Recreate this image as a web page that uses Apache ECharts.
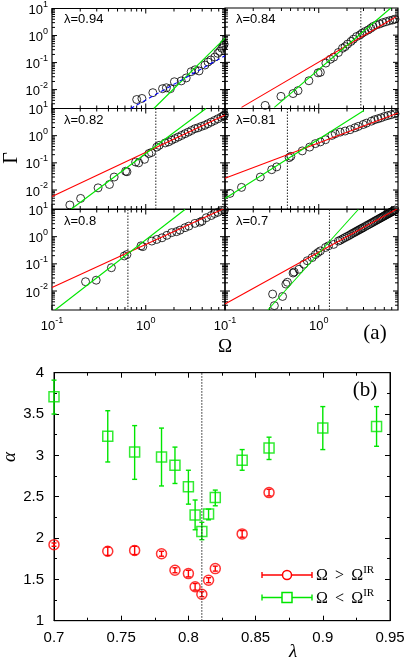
<!DOCTYPE html>
<html>
<head>
<meta charset="utf-8">
<script src="https://cdn.jsdelivr.net/npm/echarts@6/dist/echarts.min.js"></script>
<style>
  html, body { margin: 0; padding: 0; background: #fff; }
  #chart { width: 408px; height: 659px; }
</style>
</head>
<body>
<div id="chart"></div>
<script>
// ---- panel (a): Gamma vs Omega, log-log ----
const omegaMin = 0.1, omegaMax = 7;
const gammaMin = 0.002, gammaMax = 10;
const omegaMajorTicks = [0.1, 1];
const omegaMinorTicks = [0.2, 0.3, 0.4, 0.5, 0.6, 0.7, 0.8, 0.9, 2, 3, 4, 5, 6];
const gammaMajorTicks = [0.01, 0.1, 1];
const gammaMinorTicks = [0.003, 0.004, 0.005, 0.006, 0.007, 0.008, 0.009,
  0.02, 0.03, 0.04, 0.05, 0.06, 0.07, 0.08, 0.09,
  0.2, 0.3, 0.4, 0.5, 0.6, 0.7, 0.8, 0.9, 2, 3, 4, 5, 6, 7, 8, 9];

const lambdaLabels = ["0.94", "0.84", "0.82", "0.81", "0.8", "0.7"];
const omegaIR = [null, 2.81, 1.28, 0.463, 0.645, 1.30];

const pts094 = [[0.80,0.0043],[0.91,0.0047],[1.19,0.0077],[1.51,0.0108],[1.66,0.0117],[1.83,0.0108],
  [2.02,0.0195],[2.39,0.021],[2.70,0.027],[3.05,0.046],[3.36,0.054],[3.70,0.049],[4.28,0.081],
  [4.61,0.105],[4.95,0.125],[5.46,0.16],[5.86,0.22],[6.15,0.26],[6.47,0.34],[6.7,0.40],[6.85,0.48]];
const pts084 = [[0.268,0.0026],[0.395,0.0056],[0.532,0.0071],[0.601,0.0091],[0.785,0.021],[0.984,0.041],
  [1.04,0.043],[1.19,0.094],[1.33,0.13],[1.44,0.155],[1.62,0.23],[1.79,0.33],[1.91,0.38],[2.03,0.47],
  [2.21,0.59],[2.34,0.71],[2.53,0.89],[2.75,1.02],[2.90,1.18],[3.10,1.35],[3.36,1.55],[3.59,1.80],
  [3.79,2.08],[4.11,2.38],[4.46,2.59],[4.83,2.89],[5.24,3.14],[5.69,3.42],[6.15,3.63],[6.5,3.87]];
const pts082 = [[0.155,0.0028],[0.202,0.0049],[0.31,0.012],[0.41,0.016],[0.46,0.030],[0.61,0.049],
  [0.63,0.047],[0.78,0.107],[0.84,0.10],[0.97,0.135],[1.08,0.22],[1.15,0.24],[1.31,0.38],[1.39,0.44],
  [1.61,0.54],[1.75,0.59],[1.89,0.68],[2.05,0.78],[2.22,0.89],[2.41,1.02],[2.62,1.18],[2.84,1.35],
  [3.07,1.55],[3.34,1.80],[3.61,1.95],[3.92,2.19],[4.25,2.40],[4.60,2.75],[4.99,3.16],[5.42,3.63],
  [5.87,4.17],[6.36,4.79],[6.7,5.3],[6.9,5.8]];
const pts081 = [[0.113,0.0075],[0.15,0.0125],[0.238,0.030],[0.315,0.056],[0.356,0.071],[0.483,0.155],
  [0.504,0.174],[0.667,0.275],[0.80,0.38],[0.92,0.51],[1.04,0.59],[1.18,0.71],[1.38,1.02],[1.50,1.18],
  [1.69,1.35],[1.91,1.48],[2.16,1.66],[2.43,1.95],[2.64,2.19],[2.98,2.58],[3.22,2.89],[3.64,3.42],
  [3.95,3.87],[4.29,4.20],[4.63,4.57],[5.04,5.1],[5.46,5.5],[5.91,5.9],[6.5,6.4]];
const pts080 = [[0.228,0.022],[0.296,0.025],[0.43,0.072],[0.59,0.195],[0.63,0.22],[0.89,0.46],[0.93,0.43],
  [1.16,0.69],[1.31,0.79],[1.49,0.91],[1.68,1.12],[1.89,1.41],[2.13,1.53],[2.32,1.74],[2.62,2.14],
  [2.88,2.45],[3.34,3.08],[3.77,3.42],[3.98,3.72],[4.42,4.98],[4.99,6.0],[5.42,7.1],[5.87,7.9],
  [6.4,9.2],[6.9,9.6]];
const pts070 = [[0.336,0.0029],[0.322,0.0077],[0.411,0.0063],[0.463,0.021],[0.446,0.018],[0.532,0.046],
  [0.546,0.050],[0.615,0.063],[0.695,0.097],[0.754,0.13],[0.85,0.17],[0.92,0.22],[0.98,0.26],[1.04,0.30],
  [1.18,0.40],[1.27,0.46],[1.44,0.52],[1.62,0.69],[1.7,0.74],[1.8,0.83],[1.9,0.92],[2.0,1.01],[2.1,1.1],
  [2.2,1.21],[2.3,1.33],[2.4,1.43],[2.5,1.55],[2.6,1.67],[2.7,1.8],[2.8,1.92],[2.9,2.05],[3.0,2.19],
  [3.15,2.4],[3.3,2.64],[3.45,2.85],[3.6,3.10],[3.75,3.35],[3.9,3.62],[4.05,3.9],[4.2,4.17],[4.35,4.45],
  [4.5,4.75],[4.65,5.05],[4.8,5.38],[4.95,5.7],[5.1,6.05],[5.25,6.4],[5.4,6.73],[5.55,7.1],[5.7,7.48],
  [5.85,7.85],[6.0,8.24],[6.15,8.6],[6.3,9.04],[6.5,9.6]];

// fitted power laws (end points), red: Omega > Omega_IR, green: Omega < Omega_IR
const red084 = [[0.15,0.0022],[6.6,4.7]];
const red082 = [[0.1,0.0058],[7,5.8]];
const red081 = [[0.1,0.027],[7,6.8]];
const red080 = [[0.1,0.0135],[7,11.3]];
const red070 = [[0.1,0.0033],[7,11]];
const green094 = [[1.22,0.002],[7,0.8]];
const green084 = [[0.336,0.0022],[5.87,10]];
const green082 = [[0.161,0.002],[4.39,10]];
const green081 = [[0.1,0.0049],[3.03,8.5]];
const green080 = [[0.108,0.002],[2.62,10]];
const green070 = [[0.286,0.002],[2.64,10]];
const blue094 = [[0.69,0.002],[7,0.18]];

// ---- panel (b): alpha vs lambda ----
const lambdaBelow = [0.70, 0.74, 0.76, 0.78, 0.79, 0.80, 0.805, 0.81, 0.815, 0.82, 0.84, 0.86, 0.90, 0.94];
const alphaBelow  = [3.71, 3.23, 3.04, 2.98, 2.88, 2.62, 2.28, 2.08, 2.29, 2.49, 2.94, 3.09, 3.33, 3.35];
const alphaBelowLo = [3.50, 2.92, 2.71, 2.63, 2.66, 2.41, 2.10, 1.98, 2.22, 2.39, 2.82, 2.95, 3.07, 3.11];
const alphaBelowHi = [3.91, 3.54, 3.36, 3.33, 3.10, 2.82, 2.46, 2.19, 2.35, 2.58, 3.07, 3.22, 3.59, 3.59];
const lambdaAbove = [0.70, 0.74, 0.76, 0.78, 0.79, 0.80, 0.805, 0.81, 0.815, 0.82, 0.84, 0.86];
const alphaAbove  = [1.92, 1.84, 1.85, 1.81, 1.61, 1.57, 1.41, 1.32, 1.49, 1.63, 2.05, 2.55];
const alphaAboveErr = [0.02, 0.05, 0.05, 0.03, 0.03, 0.04, 0.04, 0.03, 0.03, 0.03, 0.04, 0.04];
const lambdaC = 0.81;

const RED = "#ff0000", GREEN = "#00e600", BLUE = "#0000ff";
const SANS = "Liberation Sans", SERIF = "Liberation Serif";

const panels = [
  { col: 0, row: 0, pts: pts094, red: null, green: green094, blue: blue094 },
  { col: 1, row: 0, pts: pts084, red: red084, green: green084, blue: null },
  { col: 0, row: 1, pts: pts082, red: red082, green: green082, blue: null },
  { col: 1, row: 1, pts: pts081, red: red081, green: green081, blue: null },
  { col: 0, row: 2, pts: pts080, red: red080, green: green080, blue: null },
  { col: 1, row: 2, pts: pts070, red: red070, green: green070, blue: null },
];
const colLeft = [52, 225], colWidth = 173;
const rowTop = [8, 108.5, 209.5], rowHeight = 100.5;

function pow10(v) {
  var l = Math.log10(v);
  var e = Math.round(l);
  if (Math.abs(l - e) > 1e-6) return "";
  return "{b|10}{s|" + e + "}";
}
const powRich = {
  b: { fontSize: 13, fontFamily: SANS, color: "#000", lineHeight: 17, verticalAlign: "bottom" },
  s: { fontSize: 9, fontFamily: SANS, color: "#000", lineHeight: 9, verticalAlign: "top" },
};

function tickRender(params, api) {
  var cs = params.coordSys;
  var p = api.coord([api.value(0), api.value(1)]);
  var kind = api.value(2);
  var len = kind % 2 === 0 ? 5 : 3;
  var st = { stroke: "#000", lineWidth: 1 };
  var a, b;
  if (kind < 2) {
    a = { x1: p[0], y1: cs.y + cs.height, x2: p[0], y2: cs.y + cs.height - len };
    b = { x1: p[0], y1: cs.y, x2: p[0], y2: cs.y + len };
  } else {
    a = { x1: cs.x, y1: p[1], x2: cs.x + len, y2: p[1] };
    b = { x1: cs.x + cs.width, y1: p[1], x2: cs.x + cs.width - len, y2: p[1] };
  }
  return { type: "group", children: [
    { type: "line", shape: a, style: st },
    { type: "line", shape: b, style: st },
  ] };
}

const tickData = [];
omegaMajorTicks.forEach(v => tickData.push([v, 1, 0]));
omegaMinorTicks.forEach(v => tickData.push([v, 1, 1]));
gammaMajorTicks.forEach(v => tickData.push([1, v, 2]));
gammaMinorTicks.forEach(v => tickData.push([1, v, 3]));

function errRender(params, api) {
  var x = api.value(0);
  var a = api.coord([x, api.value(1)]);
  var b = api.coord([x, api.value(2)]);
  var w = 2.5;
  var st = { stroke: api.visual("color"), lineWidth: 1.4 };
  return { type: "group", children: [
    { type: "line", shape: { x1: a[0], y1: a[1], x2: b[0], y2: b[1] }, style: st },
    { type: "line", shape: { x1: a[0] - w, y1: a[1], x2: a[0] + w, y2: a[1] }, style: st },
    { type: "line", shape: { x1: b[0] - w, y1: b[1], x2: b[0] + w, y2: b[1] }, style: st },
  ] };
}

var grid = [], xAxis = [], yAxis = [], series = [], graphic = [];

panels.forEach(function(p, i) {
  grid.push({
    left: colLeft[p.col], top: rowTop[p.row], width: colWidth, height: rowHeight,
    show: true, borderColor: "#000", borderWidth: 1.2, backgroundColor: "transparent",
  });
  xAxis.push({
    type: "log", logBase: 10, gridIndex: i, min: omegaMin, max: omegaMax,
    axisLine: { show: false }, axisTick: { show: false }, splitLine: { show: false },
    axisLabel: { show: p.row === 2, formatter: pow10, rich: powRich, margin: 6 },
  });
  yAxis.push({
    type: "log", logBase: 10, gridIndex: i, min: gammaMin, max: gammaMax,
    axisLine: { show: false }, axisTick: { show: false }, splitLine: { show: false },
    axisLabel: { show: p.col === 0, formatter: pow10, rich: powRich, margin: 4 },
  });
  series.push({
    type: "custom", xAxisIndex: i, yAxisIndex: i, data: tickData,
    renderItem: tickRender, silent: true,
  });
  if (omegaIR[i]) {
    series.push({
      type: "line", xAxisIndex: i, yAxisIndex: i, symbol: "none",
      data: [[omegaIR[i], gammaMin], [omegaIR[i], gammaMax]],
      lineStyle: { color: "#222", width: 1, type: [1.5, 1.5] },
    });
  }
  series.push({
    type: "scatter", xAxisIndex: i, yAxisIndex: i, data: p.pts,
    symbol: "circle", symbolSize: 8, clip: false,
    itemStyle: { color: "rgba(0,0,0,0)", borderColor: "#000", borderWidth: 1 },
  });
  [[p.red, RED, "solid"], [p.green, GREEN, "solid"], [p.blue, BLUE, [4, 3]]].forEach(function(f) {
    if (!f[0]) return;
    series.push({
      type: "line", xAxisIndex: i, yAxisIndex: i, symbol: "none", clip: true,
      data: f[0], lineStyle: { color: f[1], width: 1.1, type: f[2] },
    });
  });
  graphic.push({
    type: "text", left: colLeft[p.col] + (p.col === 0 ? 12 : 11), top: rowTop[p.row] + 5,
    style: { text: "\u03bb=" + lambdaLabels[i], font: "13px " + SANS, fill: "#000" },
  });
});

// panel (b)
grid.push({ left: 54, top: 372.7, width: 336, height: 248, show: true,
  borderColor: "#000", borderWidth: 1, backgroundColor: "transparent" });
const bAxisCommon = {
  gridIndex: 6, type: "value",
  axisLine: { show: true, lineStyle: { color: "#000", width: 1 } },
  axisTick: { show: true, inside: true, length: 5, lineStyle: { color: "#000" } },
  minorTick: { show: true, splitNumber: 2, length: 3, lineStyle: { color: "#000" } },
  splitLine: { show: false },
};
xAxis.push(Object.assign({}, bAxisCommon, { min: 0.7, max: 0.95, interval: 0.05, position: "bottom",
  axisLabel: { fontSize: 15, fontFamily: SANS, color: "#000", margin: 10 } }));
xAxis.push(Object.assign({}, bAxisCommon, { min: 0.7, max: 0.95, interval: 0.05, position: "top",
  axisLabel: { show: false } }));
yAxis.push(Object.assign({}, bAxisCommon, { min: 1, max: 4, interval: 0.5, position: "left",
  axisLabel: { fontSize: 15, fontFamily: SANS, color: "#000", margin: 10 } }));
yAxis.push(Object.assign({}, bAxisCommon, { min: 1, max: 4, interval: 0.5, position: "right",
  axisLabel: { show: false } }));

series.push({
  type: "line", xAxisIndex: 6, yAxisIndex: 6, symbol: "none",
  data: [[lambdaC, 1], [lambdaC, 4]],
  lineStyle: { color: "#222", width: 1, type: [1.5, 1.5] },
});
series.push({
  type: "custom", xAxisIndex: 6, yAxisIndex: 6, renderItem: errRender,
  itemStyle: { color: GREEN },
  data: lambdaBelow.map((l, k) => [l, alphaBelowLo[k], alphaBelowHi[k]]),
});
series.push({
  type: "scatter", xAxisIndex: 6, yAxisIndex: 6, symbol: "rect", symbolSize: 10, clip: false,
  itemStyle: { color: "rgba(0,0,0,0)", borderColor: GREEN, borderWidth: 1.5 },
  data: lambdaBelow.map((l, k) => [l, alphaBelow[k]]),
});
series.push({
  type: "custom", xAxisIndex: 6, yAxisIndex: 6, renderItem: errRender,
  itemStyle: { color: RED },
  data: lambdaAbove.map((l, k) => [l, alphaAbove[k] - alphaAboveErr[k], alphaAbove[k] + alphaAboveErr[k]]),
});
series.push({
  type: "scatter", xAxisIndex: 6, yAxisIndex: 6, symbol: "circle", symbolSize: 10, clip: false,
  itemStyle: { color: "rgba(0,0,0,0)", borderColor: RED, borderWidth: 1.5 },
  data: lambdaAbove.map((l, k) => [l, alphaAbove[k]]),
});

// legend of panel (b)
function legendRow(y, color, marker) {
  var st = { stroke: color, lineWidth: 1.4 };
  return { type: "group", children: [
    { type: "line", shape: { x1: 262, y1: y, x2: 312, y2: y }, style: st },
    { type: "line", shape: { x1: 262, y1: y - 3, x2: 262, y2: y + 3 }, style: st },
    { type: "line", shape: { x1: 312, y1: y - 3, x2: 312, y2: y + 3 }, style: st },
    marker === "circle"
      ? { type: "circle", shape: { cx: 287, cy: y, r: 4.5 }, style: { fill: "#fff", stroke: color, lineWidth: 1.5 } }
      : { type: "rect", shape: { x: 282, y: y - 5, width: 10, height: 10 }, style: { fill: "#fff", stroke: color, lineWidth: 1.5 } },
  ] };
}
graphic.push(legendRow(575, RED, "circle"));
graphic.push(legendRow(597.5, GREEN, "rect"));
const legRich = {
  m: { fontSize: 16, fontFamily: SERIF, fill: "#000", lineHeight: 19, verticalAlign: "bottom" },
  s: { fontSize: 11, fontFamily: SERIF, fill: "#000", lineHeight: 11, verticalAlign: "top" },
};
graphic.push({ type: "text", left: 316, top: 565, style: { text: "{m|\u03a9 \u2009>\u2009 \u03a9}{s|IR}", rich: legRich } });
graphic.push({ type: "text", left: 316, top: 587.5, style: { text: "{m|\u03a9 \u2009<\u2009 \u03a9}{s|IR}", rich: legRich } });

// axis titles and panel tags
graphic.push({ type: "text", x: 12, y: 158, rotation: Math.PI / 2,
  style: { text: "\u0393", font: "20px " + SERIF, fill: "#000", align: "center", verticalAlign: "middle" } });
graphic.push({ type: "text", x: 225, y: 347,
  style: { text: "\u03a9", font: "19px " + SERIF, fill: "#000", align: "center", verticalAlign: "middle" } });
graphic.push({ type: "text", x: 375, y: 333,
  style: { text: "(a)", font: "21px " + SERIF, fill: "#000", align: "center", verticalAlign: "middle" } });
graphic.push({ type: "text", x: 365, y: 390,
  style: { text: "(b)", font: "21px " + SERIF, fill: "#000", align: "center", verticalAlign: "middle" } });
graphic.push({ type: "text", x: 10, y: 457, rotation: Math.PI / 2,
  style: { text: "\u03b1", font: "italic 19px " + SERIF, fill: "#000", align: "center", verticalAlign: "middle" } });
graphic.push({ type: "text", x: 293, y: 652,
  style: { text: "\u03bb", font: "italic 19px " + SERIF, fill: "#000", align: "center", verticalAlign: "middle" } });

var myChart = echarts.init(document.getElementById("chart"), null, { renderer: "canvas" });
myChart.setOption({
  animation: false,
  backgroundColor: "#fff",
  grid: grid,
  xAxis: xAxis,
  yAxis: yAxis,
  series: series,
  graphic: graphic,
});
</script>
</body>
</html>
